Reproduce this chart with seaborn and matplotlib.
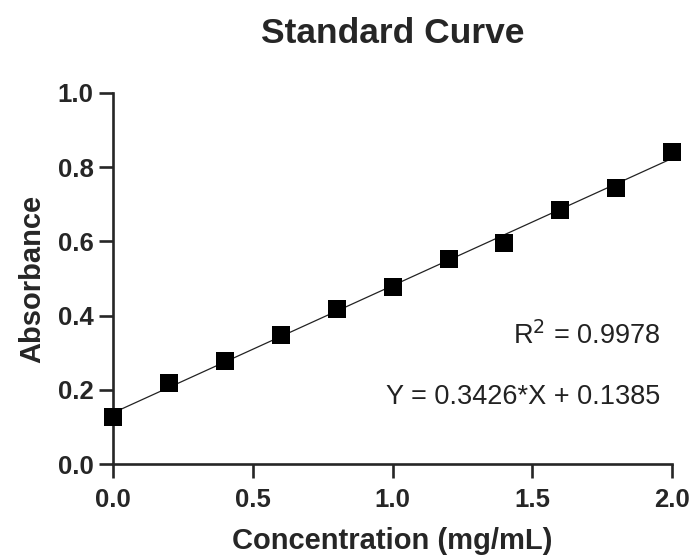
import numpy as np
import pandas as pd
import seaborn as sns
import matplotlib.pyplot as plt

# Dados da curva padrão
concentration = [0.0, 0.2, 0.4, 0.6, 0.8, 1.0, 1.2, 1.4, 1.6, 1.8, 2.0]
absorbance = [0.127, 0.218, 0.278, 0.348, 0.417, 0.478, 0.554, 0.597, 0.684, 0.743, 0.840]
slope = 0.3426
intercept = 0.1385
r_squared = 0.9978

df = pd.DataFrame({'Concentration': concentration, 'Absorbance': absorbance})

sns.set_style('ticks')
plt.rcParams['font.family'] = ['Liberation Sans', 'DejaVu Sans']

fig = plt.figure(figsize=(6.9, 5.6), dpi=100)
ax = fig.add_axes([0.164, 0.171, 0.810, 0.663])

# Reta ajustada
fit_x = np.array([min(concentration), max(concentration)])
sns.lineplot(x=fit_x, y=slope * fit_x + intercept, ax=ax, color='#222222', linewidth=0.9)

# Pontos
sns.scatterplot(data=df, x='Concentration', y='Absorbance', ax=ax, marker='s',
                s=150, color='black', edgecolor='black', linewidth=0, zorder=3, clip_on=False)

ax.set_xlim(0, 2.0)
ax.set_ylim(0, 1.0)
ax.set_xticks([0.0, 0.5, 1.0, 1.5, 2.0])
ax.set_yticks([0.0, 0.2, 0.4, 0.6, 0.8, 1.0])
ax.xaxis.set_major_formatter(plt.FormatStrFormatter('%.1f'))
ax.yaxis.set_major_formatter(plt.FormatStrFormatter('%.1f'))

for side in ['top', 'right']:
    ax.spines[side].set_visible(False)
for side in ['left', 'bottom']:
    ax.spines[side].set_linewidth(1.9)
ax.tick_params(width=1.9, length=10, labelsize=18.5, direction='out', pad=4)
ax.tick_params(axis='x', pad=7)
for lbl in ax.get_xticklabels() + ax.get_yticklabels():
    lbl.set_fontweight('bold')

ax.set_title('Standard Curve', fontsize=25.5, fontweight='bold', pad=36)
ax.set_xlabel('Concentration (mg/mL)', fontsize=21, fontweight='bold', labelpad=11)
ax.set_ylabel('Absorbance', fontsize=21, fontweight='bold', labelpad=8)

ax.text(1.957, 0.346, f'R$^2$ = {r_squared:.4f}', ha='right', va='center',
        fontsize=19.5, color='#222222')
ax.text(1.957, 0.180, f'Y = {slope:.4f}*X + {intercept:.4f}', ha='right', va='center',
        fontsize=19.5, color='#222222')

plt.savefig('out.png', dpi=100)
